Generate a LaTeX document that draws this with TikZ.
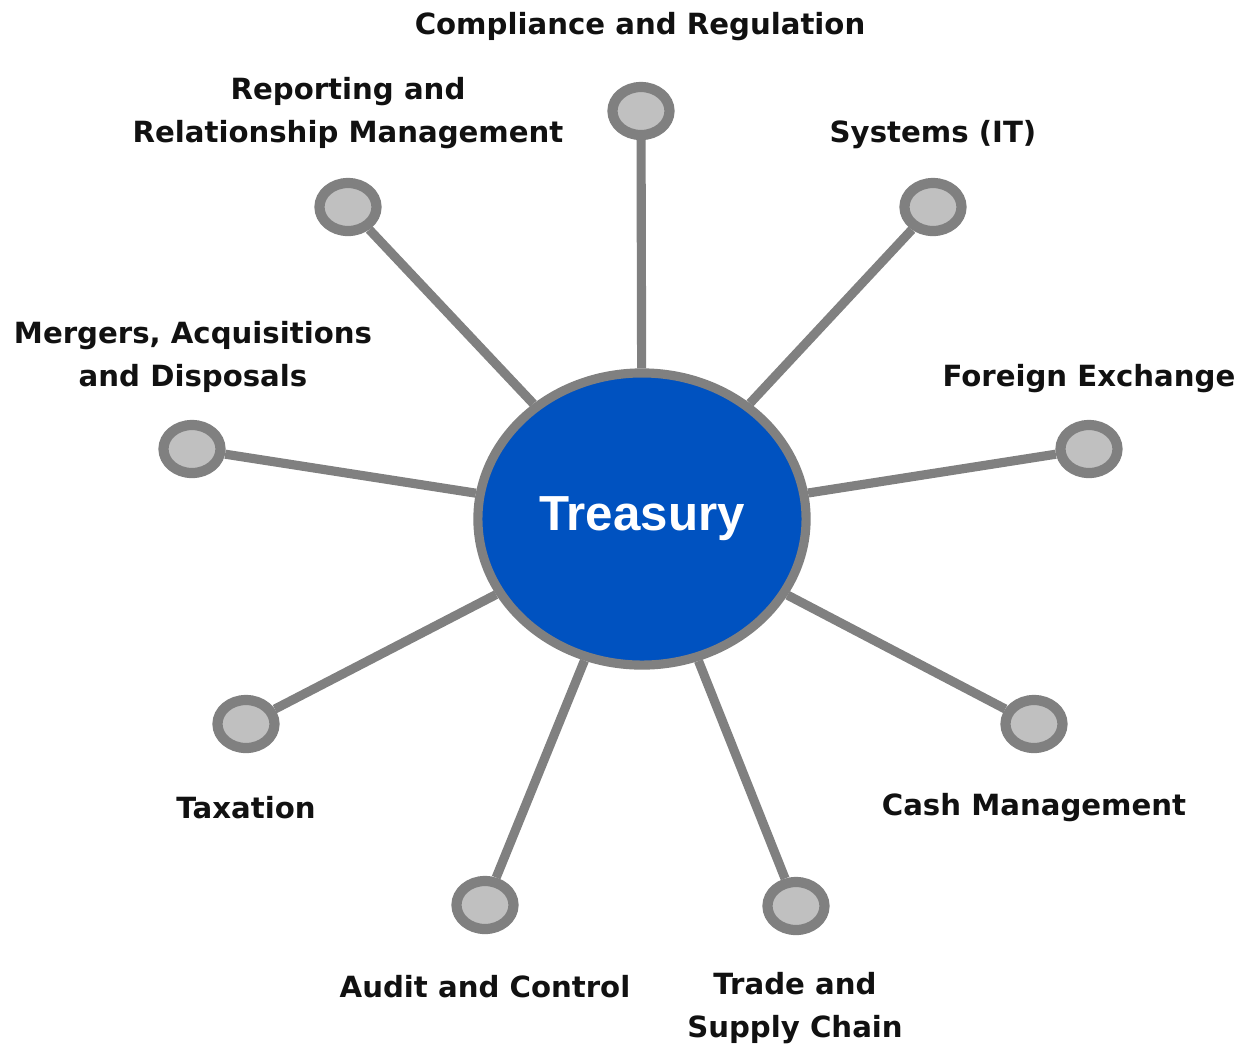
\documentclass[tikz,border=0pt]{standalone}
\usepackage{fontspec}
\usepackage{xcolor}
\usepackage{tikz}
\usetikzlibrary{shapes.geometric}
\newfontfamily\lblfont{DejaVu Sans}
\newfontfamily\hubfont{Liberation Sans}
\definecolor{trBlue}{HTML}{0052C0}
\definecolor{trGrey}{HTML}{808080}
\definecolor{trLight}{HTML}{C0C0C0}
\definecolor{trText}{HTML}{111111}

\begin{document}
\begin{tikzpicture}[x=0.01cm,y=-0.01cm,
  hub/.style={ellipse,draw=trGrey,fill=trBlue,line width=2.6pt,minimum width=3.28cm,minimum height=2.92cm,inner sep=0pt,text=white,font=\hubfont\bfseries\fontsize{14}{16}\selectfont},
  knob/.style={ellipse,draw=trGrey,fill=trLight,line width=2.9pt,minimum width=0.57cm,minimum height=0.48cm,inner sep=0pt},
  spoke/.style={trGrey,line width=2.6pt},
  lbl/.style={align=center,text=trText,font=\lblfont\bfseries\fontsize{8.3}{12.2}\selectfont}]
  \useasboundingbox (0,0) rectangle (1241,1047);
  % centre
  \node[hub] (treasury) at (642,519) {Treasury};
  % knobs, clockwise from the top
  \node[knob] (comp) at (641,111) {};
  \node[knob] (sys) at (933,207) {};
  \node[knob] (fx) at (1089,449) {};
  \node[knob] (cash) at (1034,724) {};
  \node[knob] (trade) at (796,906) {};
  \node[knob] (audit) at (485,905) {};
  \node[knob] (tax) at (246,724) {};
  \node[knob] (merg) at (192,449) {};
  \node[knob] (rep) at (348,207) {};
  % spokes
  \foreach \k in {comp,sys,fx,cash,trade,audit,tax,merg,rep} {\draw[spoke] (treasury) -- (\k);}
  % labels
  \node[lbl] (compL) at (640,27) {Compliance and Regulation};
  \node[lbl] (sysL) at (933,135) {Systems (IT)};
  \node[lbl] (fxL) at (1089,379) {Foreign Exchange};
  \node[lbl] (cashL) at (1034,808) {Cash Management};
  \node[lbl] (tradeL) at (795,1008) {Trade and\\Supply Chain};
  \node[lbl] (auditL) at (485,987) {Audit and Control};
  \node[lbl] (taxL) at (246,808) {Taxation};
  \node[lbl] (mergL) at (193,357) {Mergers, Acquisitions\\and Disposals};
  \node[lbl] (repL) at (348,113) {Reporting and\\Relationship Management};
\end{tikzpicture}
\end{document}
